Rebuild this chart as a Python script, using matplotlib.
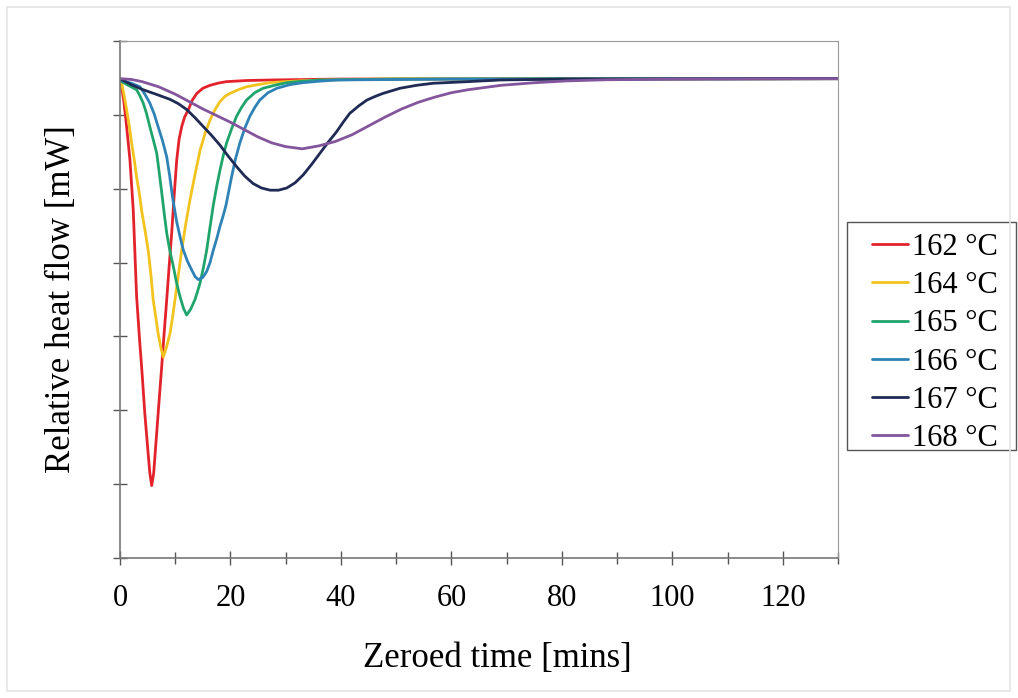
import matplotlib
matplotlib.use("Agg")
import matplotlib.pyplot as plt
from matplotlib.patches import Rectangle
from matplotlib.ticker import MultipleLocator, NullFormatter

plt.rcParams['font.family'] = ['Liberation Serif', 'DejaVu Serif']

# Values (relative units, baseline ~ -0.51)
labels = ["162 °C", "164 °C", "165 °C", "166 °C", "167 °C", "168 °C"]
colors = ["#e3232b", "#f2c31f", "#1fa46c", "#2f82b6", "#1f2a55", "#83559c"]

t_162 = [0, 0.3, 0.7, 1.2, 1.8, 2.4, 3.0, 3.5, 4.0, 4.5, 5.0, 5.4, 5.74, 6.1,
         6.65, 7.1, 7.55, 8.0, 8.46, 8.9, 9.36, 9.8, 10.27, 10.7, 11.17, 11.7,
         12.37, 13.1, 13.9, 15.0, 16.3, 17.8, 19.3, 23.0, 27.2, 40, 130]
q_162 = [-0.51, -0.62, -0.82, -1.16, -1.61, -2.29, -3.45, -4.0, -4.5, -5.05,
         -5.5, -5.85, -6.02, -5.85, -5.30, -4.85, -4.41, -3.95, -3.50, -3.05,
         -2.60, -2.10, -1.61, -1.33, -1.16, -1.03, -0.93, -0.80, -0.71, -0.64,
         -0.60, -0.57, -0.55, -0.535, -0.528, -0.515, -0.51]

t_164 = [0, 0.3, 0.75, 1.2, 1.7, 2.1, 2.6, 3.0, 3.5, 3.9, 4.5, 5.1, 5.6, 6.0,
         6.5, 6.9, 7.4, 7.84, 8.4, 9.05, 9.5, 9.96, 10.6, 11.17, 11.9, 12.67,
         13.6, 14.5, 15.4, 16.3, 17.2, 18.1, 19.0, 19.9, 21.4, 22.9, 25.0, 27.2,
         30.0, 33.1, 41.6, 50, 130]
q_164 = [-0.51, -0.57, -0.74, -0.93, -1.16, -1.38, -1.62, -1.84, -2.06, -2.29,
         -2.55, -2.83, -3.17, -3.50, -3.75, -3.96, -4.15, -4.28, -4.15, -3.96,
         -3.75, -3.50, -3.15, -2.83, -2.48, -2.15, -1.80, -1.48, -1.25, -1.07,
         -0.93, -0.82, -0.75, -0.71, -0.66, -0.62, -0.59, -0.564, -0.55, -0.537,
         -0.52, -0.512, -0.51]

t_165 = [0, 0.3, 1.5, 3.0, 3.6, 4.2, 4.8, 5.4, 6.0, 6.65, 7.1, 7.55, 8.0, 8.46,
         9.0, 9.65, 10.2, 10.86, 11.5, 12.07, 12.8, 13.58, 14.0, 14.48, 15.1,
         15.7, 16.3, 16.9, 17.5, 18.1, 18.7, 19.3, 20.2, 21.1, 22.0, 22.9, 24.4,
         25.9, 28.0, 30.2, 33.0, 36.2, 50, 130]
q_165 = [-0.51, -0.55, -0.60, -0.66, -0.74, -0.84, -0.98, -1.16, -1.33, -1.52,
         -1.78, -2.05, -2.33, -2.60, -2.83, -3.05, -3.26, -3.46, -3.62, -3.71,
         -3.63, -3.50, -3.40, -3.28, -3.07, -2.83, -2.52, -2.22, -1.97, -1.75,
         -1.55, -1.38, -1.19, -1.02, -0.90, -0.80, -0.70, -0.64, -0.60, -0.564,
         -0.545, -0.528, -0.515, -0.51]

t_166 = [0, 0.3, 2.0, 3.6, 4.5, 5.4, 6.2, 6.9, 7.7, 8.46, 9.0, 9.5, 10.27,
         10.9, 11.46, 12.2, 12.98, 13.6, 14.18, 15.0, 15.7, 16.3, 16.9, 17.5,
         18.1, 18.7, 19.2, 19.7, 20.2, 20.9, 21.7, 22.6, 23.5, 24.4, 25.3, 26.8,
         28.4, 30.8, 33.2, 36.0, 39.2, 60, 130]
q_166 = [-0.51, -0.537, -0.57, -0.62, -0.72, -0.84, -0.99, -1.16, -1.35, -1.57,
         -1.83, -2.11, -2.45, -2.66, -2.83, -2.98, -3.10, -3.19, -3.23, -3.20,
         -3.12, -3.00, -2.83, -2.68, -2.51, -2.36, -2.22, -2.03, -1.84, -1.60,
         -1.38, -1.18, -1.02, -0.90, -0.80, -0.70, -0.64, -0.59, -0.564, -0.545,
         -0.528, -0.515, -0.51]

t_167 = [0, 2.0, 4.2, 6.5, 9.05, 10.6, 12.1, 13.6, 15.1, 16.6, 18.1, 19.6,
         21.1, 22.6, 24.1, 25.6, 27.2, 28.7, 30.2, 31.7, 33.2, 34.7, 36.2, 37.7,
         39.2, 40.4, 41.6, 43.2, 44.7, 46.2, 47.6, 50.7, 53.7, 56.7, 62.8, 68.8,
         80, 130]
q_167 = [-0.51, -0.59, -0.66, -0.72, -0.79, -0.85, -0.93, -1.04, -1.16, -1.28,
         -1.41, -1.56, -1.70, -1.83, -1.93, -1.99, -2.02, -2.02, -1.99, -1.92,
         -1.81, -1.67, -1.52, -1.37, -1.23, -1.10, -0.98, -0.88, -0.80, -0.75,
         -0.71, -0.64, -0.60, -0.572, -0.551, -0.528, -0.515, -0.51]

t_168 = [0, 2, 4, 7, 10, 12.5, 15, 17.5, 20, 22.5, 25, 27.5, 30, 33, 36, 39,
         42, 45, 48, 51, 54, 57, 60, 63, 66, 69, 75, 81, 88, 100, 130]
q_168 = [-0.51, -0.52, -0.55, -0.62, -0.72, -0.82, -0.92, -1.01, -1.10, -1.20,
         -1.30, -1.38, -1.43, -1.46, -1.42, -1.36, -1.27, -1.15, -1.03, -0.92,
         -0.83, -0.76, -0.70, -0.66, -0.63, -0.60, -0.565, -0.54, -0.525,
         -0.515, -0.51]

series = [(t_162, q_162), (t_164, q_164), (t_165, q_165),
          (t_166, q_166), (t_167, q_167), (t_168, q_168)]

fig = plt.figure(figsize=(10.18, 6.98), dpi=100)
ax = fig.add_axes([120 / 1018, 1 - 558 / 698, 718 / 1018, 517 / 698])

for (t, q), c, lab in zip(series, colors, labels):
    ax.plot(t, q, color=c, lw=2.0, label=lab,
            solid_joinstyle='round', solid_capstyle='round')

ax.set_xlim(0, 130)
ax.set_ylim(-7, 0)
ax.xaxis.set_major_locator(MultipleLocator(20))
ax.xaxis.set_minor_locator(MultipleLocator(10))
ax.yaxis.set_major_locator(MultipleLocator(1))
ax.yaxis.set_major_formatter(NullFormatter())
ax.tick_params(axis='both', which='both', direction='inout', color='#555555', width=1)
ax.tick_params(axis='x', which='major', length=10, labelsize=22, pad=14)
ax.tick_params(axis='x', which='minor', length=8)
ax.tick_params(axis='y', which='major', length=10)
for side in ['top', 'right']:
    ax.spines[side].set_color('#999999')
for side in ['left', 'bottom']:
    ax.spines[side].set_color('#777777')
    ax.spines[side].set_linewidth(1.2)

ax.set_xlabel('Zeroed time [mins]', fontsize=25)
ax.xaxis.set_label_coords(0.525, -0.163)
ax.set_ylabel('Relative heat flow [mW]', fontsize=25, labelpad=22)

leg = ax.legend(loc='upper left', bbox_to_anchor=(872 / 1018, 1 - 233 / 698),
                bbox_transform=fig.transFigure, fontsize=22, frameon=False,
                handlelength=1.18, handletextpad=0.12,
                labelspacing=0.30, borderpad=0, borderaxespad=0)

# legend box
fig.patches.append(Rectangle((847 / 1018, 1 - 450 / 698), 169 / 1018, 228 / 698,
                             transform=fig.transFigure, fill=False,
                             edgecolor='#555555', lw=1.0))

# faint outer border of the image
fig.patches.append(Rectangle((7 / 1018, 7 / 698), 1003 / 1018, 684 / 698,
                             transform=fig.transFigure, fill=False,
                             edgecolor='#e4e4e4', lw=1.2))

fig.savefig('out.png', dpi=100)
